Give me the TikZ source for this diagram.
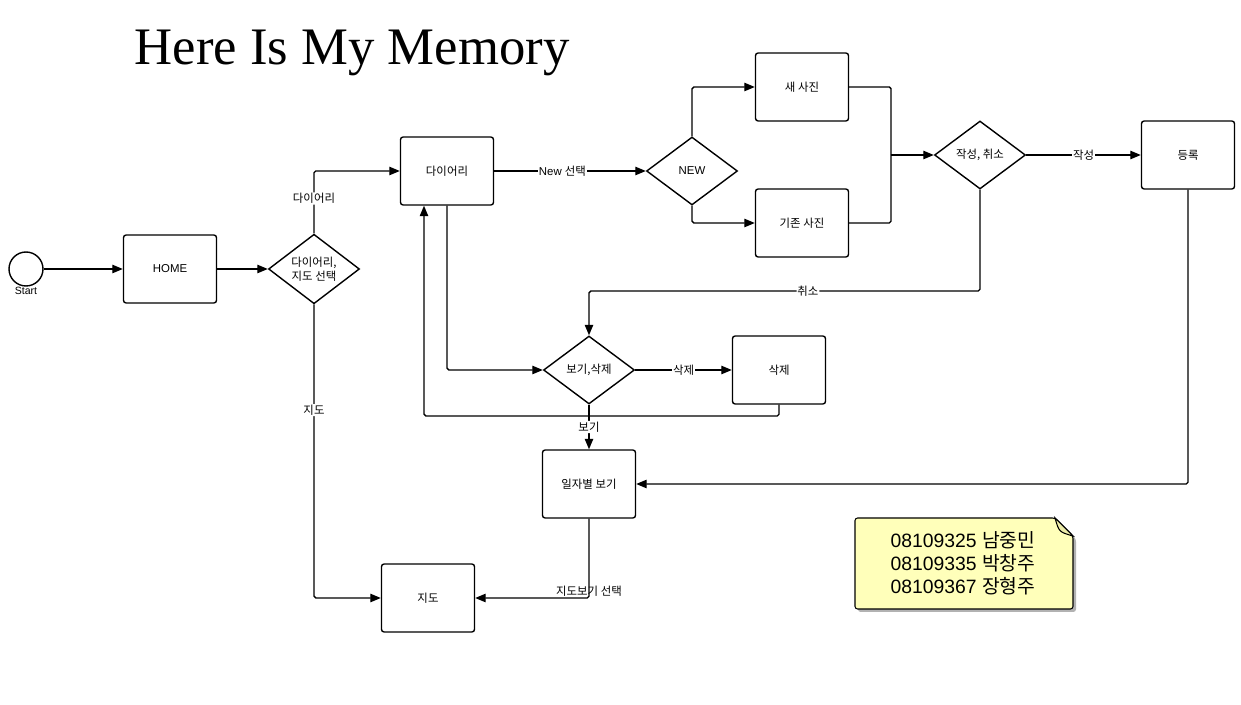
\documentclass[tikz,border=0pt]{standalone}
\usepackage{fontspec}
\setmainfont{Liberation Sans}
\newfontfamily\kr{Noto Sans CJK KR}
\newfontfamily\titlefont{Liberation Serif}
\usetikzlibrary{shapes.geometric,arrows.meta}
\definecolor{notefill}{RGB}{255,255,186}
\definecolor{foldfill}{RGB}{236,236,168}
\tikzset{
  box/.style={draw, rounded corners=1.5pt, line width=0.8pt, minimum width=1.86cm, minimum height=1.36cm, align=center, font=\fontsize{6.5}{8}\selectfont},
  choice/.style={draw, diamond, line width=0.8pt, inner sep=0pt, minimum width=1.82cm, minimum height=1.36cm, align=center, font=\fontsize{6.5}{8}\selectfont},
  flow/.style={-{Triangle[length=6pt, width=4.8pt]}, line width=0.8pt, rounded corners=1pt},
  tag/.style={fill=white, inner sep=0.5pt, font=\fontsize{6.5}{8}\selectfont}
}
\begin{document}
\begin{tikzpicture}[x=0.02cm, y=-0.02cm]
\useasboundingbox (0,0) rectangle (1241,705);

\node[anchor=base, font=\titlefont\fontsize{30}{36}\selectfont] (title) at (352,65) {Here Is My Memory};

\node[draw, circle, line width=0.8pt, minimum size=0.68cm, inner sep=0pt] (start) at (26,269) {};
\node[font=\fontsize{6}{7}\selectfont, inner sep=0pt] (startlabel) at (26,291) {Start};
\node[box] (home) at (170,269) {HOME};
\node[choice] (sel) at (314,269) {\kr 다이어리,\\\kr 지도 선택};
\node[box] (diary) at (447,171) {\kr 다이어리};
\node[choice] (new) at (692,171) {NEW};
\node[box] (newpic) at (802,87) {\kr 새 사진};
\node[box] (oldpic) at (802,223) {\kr 기존 사진};
\coordinate (join) at (891,155);
\node[choice] (write) at (980,155) {\kr 작성, 취소};
\node[box] (reg) at (1188,155) {\kr 등록};
\coordinate (turn) at (589,291);
\node[choice] (view) at (589,370) {\kr 보기,삭제};
\node[box] (del) at (779,370) {\kr 삭제};
\coordinate (back) at (424,416);
\node[box] (daily) at (589,484) {\kr 일자별 보기};
\node[box] (map) at (428,598) {\kr 지도};

\draw[flow] (start) -- (home);
\draw[flow] (home) -- (sel);
\draw[flow] (sel.north) |- node[tag, pos=0.28] {\kr 다이어리} (diary);
\draw[flow] (sel.south) |- node[tag, pos=0.18] {\kr 지도} (map);
\draw[flow] (diary) -- node[tag, pos=0.45] {New {\kr 선택}} (new);
\draw[flow] (new.north) |- (newpic);
\draw[flow] (new.south) |- (oldpic);
\draw[line width=0.8pt, rounded corners=1pt] (newpic.east) -| (join);
\draw[line width=0.8pt, rounded corners=1pt] (oldpic.east) -| (join);
\draw[flow] (join) -- (write);
\draw[flow] (write) -- node[tag] {\kr 작성} (reg);
\draw[flow] (write.south) |- node[tag, pos=0.72] {\kr 취소} (turn) -- (view.north);
\draw[flow] (diary.south) |- (view);
\draw[flow] (view) -- node[tag] {\kr 삭제} (del);
\draw[flow] (del.south) |- (back) -- (back |- diary.south);
\draw[flow] (view.south) -- node[tag] {\kr 보기} (daily);
\draw[flow] (reg.south) |- (daily);
\draw[flow] (daily.south) |- node[pos=0.5, above, inner sep=0.5pt, font=\fontsize{6.5}{8}\selectfont] {\kr 지도보기 선택} (map);

\fill[black!30, rounded corners=1.5pt] (858,521) -- (1058,521) -- (1076,539) -- (1076,612) -- (858,612) -- cycle;
\draw[fill=notefill, line width=0.6pt, rounded corners=1.5pt] (855,518) -- (1055,518) -- (1073,536) -- (1073,609) -- (855,609) -- cycle;
\draw[fill=foldfill, line width=0.6pt] (1055,518) .. controls (1059,532) .. (1073,536) -- cycle;
\node[align=center, font=\fontsize{11}{13}\selectfont] (note) at (963,563) {08109325 {\kr 남중민}\\08109335 {\kr 박창주}\\08109367 {\kr 장형주}};
\end{tikzpicture}
\end{document}
